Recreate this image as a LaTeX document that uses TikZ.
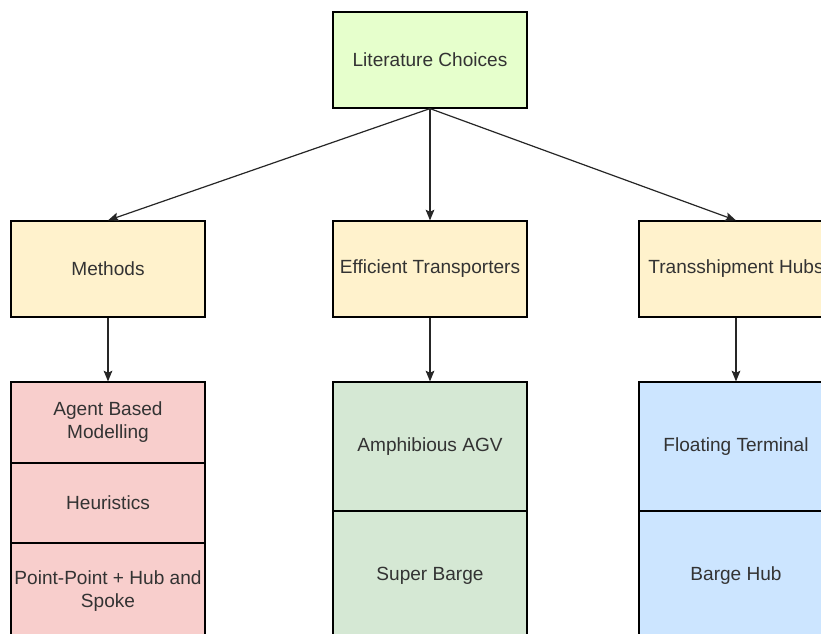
\documentclass[tikz,border=0pt]{standalone}
\usepackage{fontspec}
\setmainfont{Liberation Sans}
\usetikzlibrary{arrows.meta}
\definecolor{topfill}{HTML}{E6FFCC}
\definecolor{catfill}{HTML}{FFF2CC}
\definecolor{redfill}{HTML}{F8CECC}
\definecolor{greenfill}{HTML}{D5E8D4}
\definecolor{bluefill}{HTML}{CCE5FF}
\definecolor{txt}{HTML}{333333}
\tikzset{
  box/.style={draw=black, line width=0.9pt, minimum width=145.5pt, inner sep=0pt,
    align=center, text=txt, font=\fontsize{14.3pt}{17.3pt}\selectfont},
  catbox/.style={box, fill=catfill, minimum height=72pt},
  link/.style={draw=black!85, line width=0.9pt, -{Stealth[length=8pt,width=6.5pt,inset=1.5pt]}},
}
\begin{document}
\begin{tikzpicture}[x=0.75pt, y=-0.75pt]
\useasboundingbox (0,0) rectangle (821,634);
\fill[white] (0,0) rectangle (821,634);
\clip (0,0) rectangle (821,634);

% root
\node[box, fill=topfill, minimum height=72pt] (lit) at (430,60) {Literature Choices};

% categories
\node[catbox] (meth)  at (108,269) {Methods};
\node[catbox] (eff)   at (430,269) {Efficient Transporters};
\node[catbox] (trans) at (736,269) {Transshipment Hubs};

% methods stack
\node[box, fill=redfill, minimum height=60.75pt] (abm)  at (108,422.5) {Agent Based\\Modelling};
\node[box, fill=redfill, minimum height=60pt]    (heur) at (108,503)   {Heuristics};
\node[box, fill=redfill, minimum height=72.75pt] (pph)  at (108,591.5) {Point-Point + Hub and\\Spoke};

% transporter stack
\node[box, fill=greenfill, minimum height=96.75pt] (agv)   at (430,446.5) {Amphibious AGV};
\node[box, fill=greenfill, minimum height=96.75pt] (barge) at (430,575.5) {Super Barge};

% hub stack
\node[box, fill=bluefill, minimum height=96.75pt] (float) at (736,446.5) {Floating Terminal};
\node[box, fill=bluefill, minimum height=96.75pt] (bhub)  at (736,575.5) {Barge Hub};

% connectors
\draw[link] (lit.south) -- (meth.north);
\draw[link] (lit.south) -- (eff.north);
\draw[link] (lit.south) -- (trans.north);
\draw[link] (meth.south) -- (abm.north);
\draw[link] (eff.south) -- (agv.north);
\draw[link] (trans.south) -- (float.north);
\end{tikzpicture}
\end{document}
